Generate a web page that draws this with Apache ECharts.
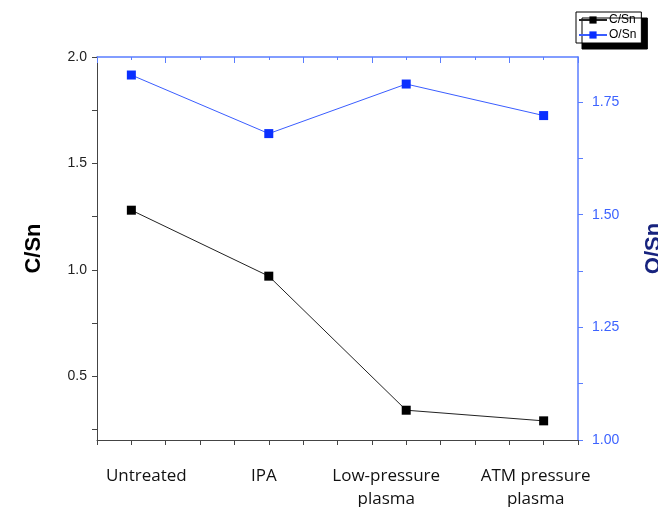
<!DOCTYPE html>
<html><head><meta charset="utf-8">
<script src="https://cdn.jsdelivr.net/npm/echarts@6/dist/echarts.min.js"></script>
<style>html,body{margin:0;padding:0;background:#fff}#c{width:658px;height:507px}</style>
</head><body><div id="c"></div>
<script>
const categories = ['Untreated', 'IPA', 'Low-pressure\nplasma', 'ATM pressure\nplasma'];
const cSn = [1.28, 0.97, 0.34, 0.29];
const oSn = [1.81, 1.68, 1.79, 1.72];
const leftLabels = [0.5, 1.0, 1.5, 2.0];
const leftTicks = [0.25, 0.5, 0.75, 1.0, 1.25, 1.5, 1.75, 2.0];
const rightLabels = [1.0, 1.25, 1.5, 1.75];
const rightTicks = [1.0, 1.125, 1.25, 1.375, 1.5, 1.625, 1.75];
const catPos = [1, 2, 3, 4];

const baseRich = {fontFamily: 'Open Sans', fontSize: 17, color: '#111', lineHeight: 23};
const richStyles = {
  a: Object.assign({}, baseRich, {padding: [0, 0, 0, 30]}),
  b: Object.assign({}, baseRich, {padding: [0, 10, 0, 0]}),
  c: Object.assign({}, baseRich, {padding: [0, 40, 0, 0]}),
  d: Object.assign({}, baseRich, {padding: [0, 16, 0, 0]})
};
const richKeys = ['a', 'b', 'c', 'd'];

const chart = echarts.init(document.getElementById('c'));
chart.setOption({
  animation: false,
  backgroundColor: '#fff',
  grid: {left: 97, right: 80, top: 57, bottom: 67, containLabel: false, outerBoundsMode: 'none'},
  legend: {
    orient: 'vertical', left: 576, top: 12,
    data: ['C/Sn', 'O/Sn'],
    itemWidth: 28, itemHeight: 9, itemGap: 3,
    padding: [2, 5, 2, 2],
    textStyle: {fontFamily: 'Arial', fontSize: 12, color: '#000', padding: [0, 0, 0, -3]},
    borderColor: '#000', borderWidth: 1, backgroundColor: '#fff',
    shadowColor: '#000', shadowBlur: 0, shadowOffsetX: 6, shadowOffsetY: 6
  },
  xAxis: [{
    type: 'value', min: 0.75, max: 4.25, interval: 0.25,
    position: 'bottom',
    axisLine: {lineStyle: {color: '#444', width: 1}},
    axisTick: {show: true, inside: false, length: 5, lineStyle: {color: '#444'}},
    splitLine: {show: false},
    axisLabel: {
      customValues: catPos, margin: 25,
      formatter: function (v) {
        const i = catPos.indexOf(v);
        if (i < 0) return '';
        return categories[i].split('\n').map(s => '{' + richKeys[i] + '|' + s + '}').join('\n');
      },
      rich: richStyles
    }
  }, {
    type: 'value', min: 0.75, max: 4.25, interval: 0.5,
    position: 'top',
    axisLine: {show: true, lineStyle: {color: '#5a7dff', width: 1.5}},
    axisTick: {show: true, inside: true, length: 6, lineStyle: {color: '#5a7dff'}},
    minorTick: {show: true, splitNumber: 2, length: 3, lineStyle: {color: '#5a7dff'}},
    axisLabel: {show: false},
    splitLine: {show: false}
  }],
  yAxis: [{
    type: 'value', min: 0.2, max: 2.0, position: 'left',
    name: 'C/Sn', nameLocation: 'middle', nameRotate: 90, nameGap: 52,
    nameTextStyle: {fontFamily: 'Arial', fontWeight: 'bold', fontSize: 22, color: '#000'},
    axisLine: {show: true, lineStyle: {color: '#444', width: 1}},
    axisTick: {show: true, customValues: leftTicks, length: 5, lineStyle: {color: '#444'}},
    axisLabel: {customValues: leftLabels, formatter: v => v.toFixed(1), fontFamily: 'Arial', fontSize: 14, color: '#222', margin: 10},
    splitLine: {show: false}
  }, {
    type: 'value', min: 1.0, max: 1.85, position: 'right',
    name: 'O/Sn', nameLocation: 'middle', nameRotate: 90, nameGap: 65,
    nameTextStyle: {fontFamily: 'Arial', fontWeight: 'bold', fontSize: 22, color: '#17237e'},
    axisLine: {show: true, lineStyle: {color: '#5a7dff', width: 1.5}},
    axisTick: {show: true, customValues: rightTicks, length: 5, lineStyle: {color: '#5a7dff'}},
    axisLabel: {customValues: rightLabels, formatter: v => v.toFixed(2), fontFamily: 'Arial', fontSize: 14, color: '#3d63ff', margin: 14},
    splitLine: {show: false}
  }],
  series: [{
    name: 'C/Sn', type: 'line', xAxisIndex: 0, yAxisIndex: 0,
    data: cSn.map((v, i) => [catPos[i], v]),
    symbol: 'rect', symbolSize: 9,
    lineStyle: {color: '#222', width: 1},
    itemStyle: {color: '#000'}
  }, {
    name: 'O/Sn', type: 'line', xAxisIndex: 0, yAxisIndex: 1,
    data: oSn.map((v, i) => [catPos[i], v]),
    symbol: 'rect', symbolSize: 9,
    lineStyle: {color: '#3a5dff', width: 1},
    itemStyle: {color: '#0a2fff'}
  }]
});
</script></body></html>
